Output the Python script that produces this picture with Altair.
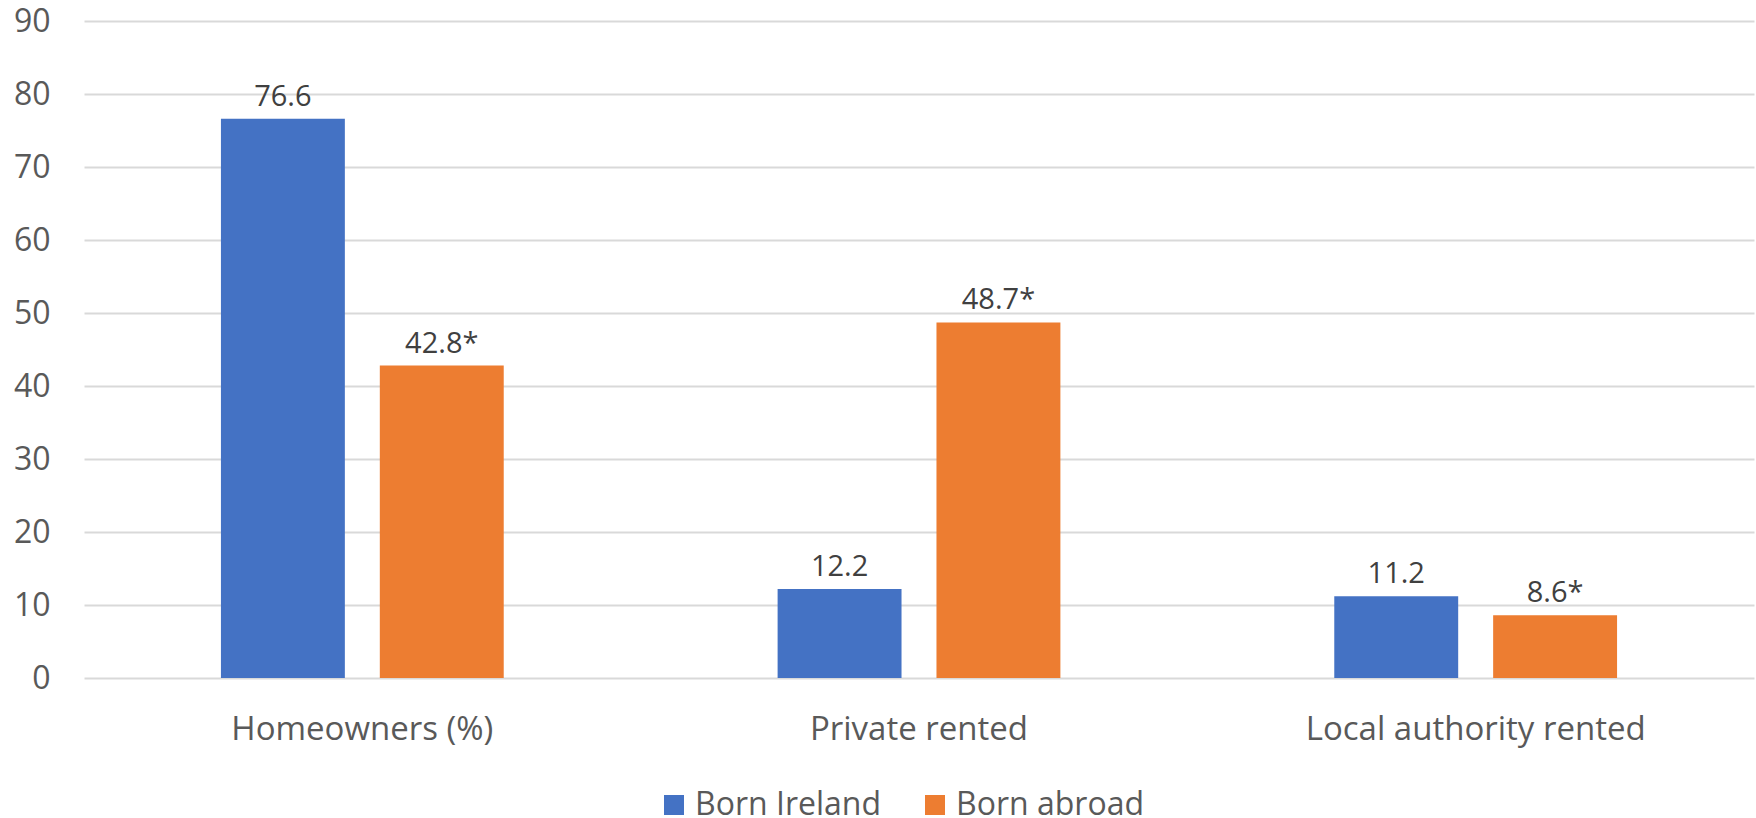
import altair as alt
import pandas as pd

categories = ["Homeowners (%)", "Private rented", "Local authority rented"]
series = ["Born Ireland", "Born abroad"]
born_ireland = [76.6, 12.2, 11.2]
born_abroad = [42.8, 48.7, 8.6]
labels_ireland = ["76.6", "12.2", "11.2"]
labels_abroad = ["42.8*", "48.7*", "8.6*"]
y_ticks = [0, 10, 20, 30, 40, 50, 60, 70, 80, 90]

rows = []
for i, c in enumerate(categories):
    rows.append({"cat": c, "series": series[0], "value": born_ireland[i], "label": labels_ireland[i]})
    rows.append({"cat": c, "series": series[1], "value": born_abroad[i], "label": labels_abroad[i]})
df = pd.DataFrame(rows)

FONT = "Open Sans"

x = alt.X("cat:N", sort=categories, title=None,
          scale=alt.Scale(paddingInner=0.492, paddingOuter=0.246),
          axis=alt.Axis(labelAngle=0, labelFontSize=33, labelColor="#595959",
                        labelFont=FONT, labelPadding=35, labelLimit=0,
                        ticks=False, domain=False))
xo = alt.XOffset("series:N", sort=series,
                 scale=alt.Scale(paddingInner=0.22, paddingOuter=0))
y = alt.Y("value:Q", title=None,
          scale=alt.Scale(domain=[0, 90], nice=False),
          axis=alt.Axis(values=y_ticks, labelFontSize=32, labelColor="#595959",
                        labelFont=FONT, labelPadding=34, ticks=False, domain=False,
                        grid=True, gridColor="#D9D9D9", gridWidth=2))

color = alt.Color("series:N", sort=series,
                  scale=alt.Scale(domain=series, range=["#4472C4", "#ED7D31"]),
                  legend=alt.Legend(title=None, orient="none", direction="horizontal",
                                    legendX=574, legendY=768,
                                    symbolType="square", symbolSize=400,
                                    symbolStrokeWidth=0,
                                    labelFontSize=32, labelColor="#595959",
                                    labelFont=FONT, labelOffset=5, labelLimit=0,
                                    columnPadding=38))

base = alt.Chart(df)
bars = base.mark_bar().encode(x=x, xOffset=xo, y=y, color=color)
text = base.mark_text(dy=-13, baseline="alphabetic", fontSize=29, font=FONT,
                      color="#404040").encode(
    x=alt.X("cat:N", sort=categories),
    xOffset=alt.XOffset("series:N", sort=series),
    y="value:Q", text="label:N")

chart = (bars + text).properties(
    width=1670, height=657,
    autosize=alt.AutoSizeParams(type="none"),
    padding={"left": 84, "top": 21, "right": 2, "bottom": 140},
    background="white",
).configure_view(stroke=None)

chart.save("out.html", embed_options={"renderer": "svg", "actions": False})
